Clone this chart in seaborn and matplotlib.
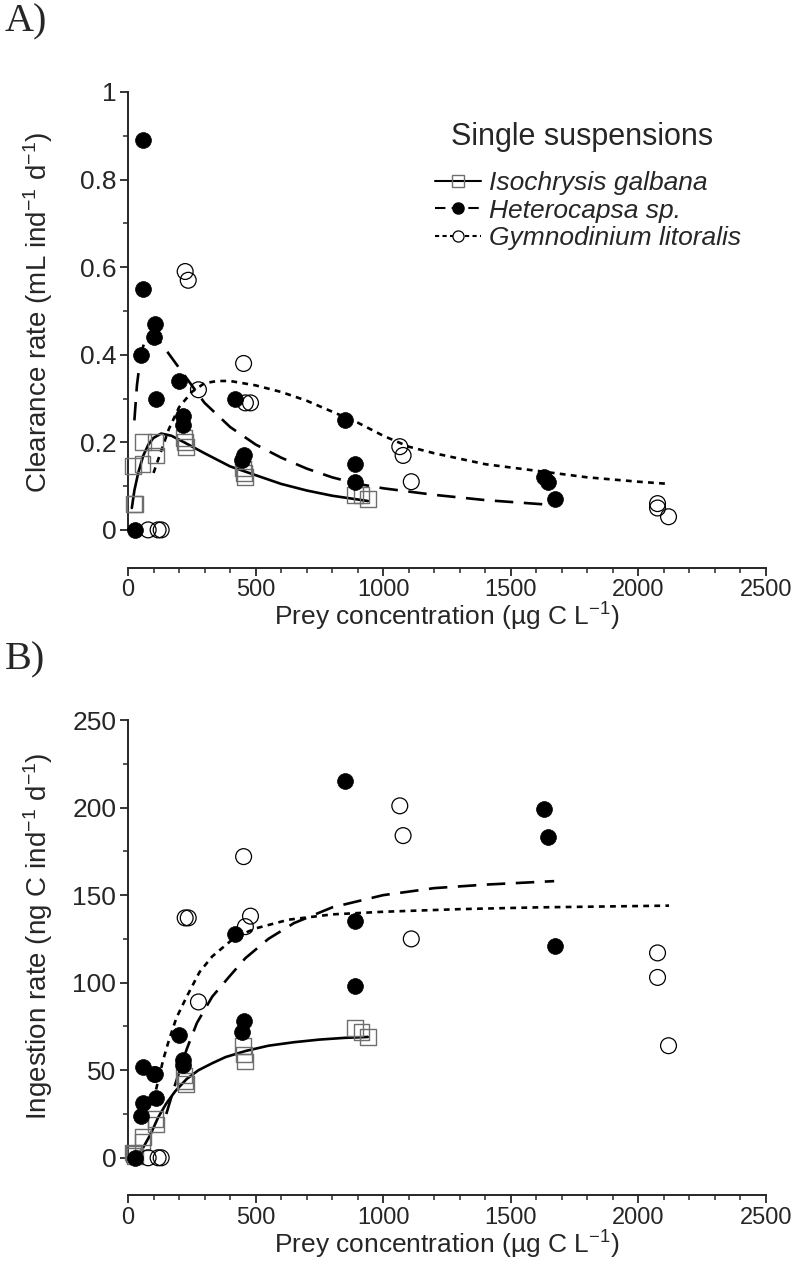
import matplotlib
matplotlib.use("Agg")
import matplotlib.pyplot as plt
import seaborn as sns
import numpy as np
from matplotlib.lines import Line2D
from matplotlib.ticker import MultipleLocator, FuncFormatter
from matplotlib import font_manager

# ---------------- data ----------------
# Isochrysis galbana (open grey squares)
iso_x = [18, 25, 28, 57, 60, 108, 110, 220, 224, 228, 452, 455, 458, 888, 915, 940]
iso_cr = [0.145, 0.06, 0.06, 0.15, 0.20, 0.20, 0.17, 0.21, 0.20, 0.19, 0.14, 0.13, 0.12, 0.08, 0.08, 0.07]
iso_ir = [3, 2, 1, 9, 12, 22, 19, 47, 44, 42, 64, 59, 55, 74, 72, 69]

# Heterocapsa sp. (filled circles)
het_x = [28, 59, 59, 52, 106, 102, 110, 200, 217, 217, 421, 445, 453, 850, 890, 890, 1630, 1646, 1673]
het_cr = [0.0, 0.89, 0.55, 0.40, 0.47, 0.44, 0.30, 0.34, 0.26, 0.24, 0.30, 0.16, 0.17, 0.25, 0.15, 0.11, 0.12, 0.11, 0.07]
het_ir = [0, 52, 31, 24, 48, 48, 34, 70, 56, 53, 128, 72, 78, 215, 135, 98, 199, 183, 121]

# Gymnodinium litoralis (open circles)
gym_x = [79, 118, 130, 224, 236, 276, 453, 460, 480, 1065, 1078, 1110, 2075, 2075, 2118]
gym_cr = [0, 0, 0, 0.59, 0.57, 0.32, 0.38, 0.29, 0.29, 0.19, 0.17, 0.11, 0.06, 0.05, 0.03]
gym_ir = [0, 0, 0, 137, 137, 89, 172, 132, 138, 201, 184, 125, 117, 103, 64]

# fitted curves
iso_fit_cr_x = [15, 25, 40, 60, 80, 100, 130, 170, 220, 300, 400, 500, 600, 700, 800, 940]
iso_fit_cr_y = [0.05, 0.09, 0.13, 0.17, 0.195, 0.21, 0.22, 0.215, 0.20, 0.175, 0.145, 0.125, 0.105, 0.09, 0.078, 0.066]
het_fit_cr_x = [25, 35, 50, 70, 90, 110, 150, 200, 250, 300, 400, 500, 600, 700, 800, 900, 1000, 1200, 1400, 1660]
het_fit_cr_y = [0.25, 0.33, 0.40, 0.44, 0.45, 0.44, 0.41, 0.37, 0.33, 0.29, 0.235, 0.195, 0.165, 0.14, 0.12, 0.105, 0.095, 0.08, 0.068, 0.057]
gym_fit_cr_x = [100, 130, 160, 200, 250, 300, 350, 400, 500, 600, 700, 800, 900, 1000, 1100, 1200, 1400, 1600, 1800, 2000, 2120]
gym_fit_cr_y = [0.13, 0.18, 0.23, 0.28, 0.315, 0.335, 0.34, 0.34, 0.33, 0.315, 0.295, 0.27, 0.245, 0.215, 0.19, 0.175, 0.15, 0.135, 0.12, 0.11, 0.105]

iso_fit_ir_x = [35, 60, 87, 118, 150, 185, 230, 276, 330, 382, 461, 550, 650, 750, 850, 940]
iso_fit_ir_y = [0, 6, 13, 23, 31, 38, 45, 50, 54, 57.5, 61, 64, 66, 67.5, 68.5, 69]
het_fit_ir_x = [150, 185, 230, 270, 330, 400, 460, 550, 650, 800, 1000, 1200, 1400, 1670]
het_fit_ir_y = [25, 42, 62, 77, 92, 104, 114, 125, 134, 143, 150, 154, 156, 158]
gym_fit_ir_x = [110, 138, 160, 190, 230, 280, 330, 420, 500, 630, 800, 1000, 1300, 1600, 2120]
gym_fit_ir_y = [39, 56, 67, 80, 92, 106, 115, 126, 131, 136, 139, 140.5, 142, 143, 144]

legend_labels = ["Isochrysis galbana", "Heterocapsa sp.", "Gymnodinium litoralis"]

# ---------------- style ----------------
sns.set_style("ticks")
plt.rcParams["font.family"] = ["Liberation Sans", "DejaVu Sans"]
plt.rcParams["mathtext.fontset"] = "custom"
plt.rcParams["mathtext.rm"] = "Liberation Sans"
plt.rcParams["mathtext.default"] = "regular"

names = {f.name for f in font_manager.fontManager.ttflist}
if "Liberation Sans Narrow" in names:
    xfont = ["Liberation Sans Narrow", "Liberation Sans"]
    xtick_size, xlab_size = 20, 21
else:
    xfont = ["Liberation Sans", "DejaVu Sans"]
    xtick_size, xlab_size = 17, 19

fig = plt.figure(figsize=(8, 12.65), dpi=100)
axA = fig.add_axes([0.16, 0.5510, 0.7975, 0.3763])
axB = fig.add_axes([0.16, 0.0550, 0.7975, 0.3758])

SQ_EDGE = "#6e6e6e"
LONG = (7, 4)
SHORT = (2.2, 2.0)


def draw_panel(ax, iso_y, het_y, gym_y, fits):
    (ix, iy), (hx, hy), (gx, gy) = fits
    sns.lineplot(x=ix, y=iy, ax=ax, color="black", lw=1.9, errorbar=None)
    sns.lineplot(x=hx, y=hy, ax=ax, color="black", lw=1.9, errorbar=None)
    ax.lines[-1].set_dashes(LONG)
    sns.lineplot(x=gx, y=gy, ax=ax, color="black", lw=1.9, errorbar=None)
    ax.lines[-1].set_dashes(SHORT)

    sns.scatterplot(x=iso_x, y=iso_y, ax=ax, marker="s", s=130, clip_on=False, zorder=3)
    c = ax.collections[-1]
    c.set_facecolor("none"); c.set_edgecolor(SQ_EDGE); c.set_linewidth(1.0)
    sns.scatterplot(x=gym_x, y=gym_y, ax=ax, marker="o", s=130, clip_on=False, zorder=4)
    c = ax.collections[-1]
    c.set_facecolor("none"); c.set_edgecolor("black"); c.set_linewidth(0.9)
    sns.scatterplot(x=het_x, y=het_y, ax=ax, marker="o", s=130, clip_on=False, zorder=5)
    c = ax.collections[-1]
    c.set_facecolor("black"); c.set_edgecolor("black"); c.set_linewidth(0.5)


draw_panel(axA, iso_cr, het_cr, gym_cr,
           [(iso_fit_cr_x, iso_fit_cr_y), (het_fit_cr_x, het_fit_cr_y), (gym_fit_cr_x, gym_fit_cr_y)])
draw_panel(axB, iso_ir, het_ir, gym_ir,
           [(iso_fit_ir_x, iso_fit_ir_y), (het_fit_ir_x, het_fit_ir_y), (gym_fit_ir_x, gym_fit_ir_y)])

fmt = FuncFormatter(lambda v, p: f"{v:g}")
for ax, ymax, ybot, maj, mnr in [(axA, 1.0, -0.087, 0.2, 0.1), (axB, 250, -21.5, 50, 25)]:
    ax.set_xlim(0, 2500)
    ax.set_ylim(ybot, ymax)
    ax.spines["top"].set_visible(False)
    ax.spines["right"].set_visible(False)
    ax.spines["left"].set_bounds(0, ymax)
    ax.spines["bottom"].set_bounds(0, 2500)
    for s in ("left", "bottom"):
        ax.spines[s].set_linewidth(1.4)
    ax.xaxis.set_major_locator(MultipleLocator(500))
    ax.xaxis.set_minor_locator(MultipleLocator(100))
    ax.set_yticks([t for t in np.arange(0, ymax + maj / 2, maj)])
    ax.set_yticks([t for t in np.arange(0, ymax + mnr / 2, mnr)], minor=True)
    ax.yaxis.set_major_formatter(fmt)
    ax.tick_params(which="major", direction="out", length=6, width=1.3, labelsize=19)
    ax.tick_params(which="minor", direction="out", length=3.5, width=1.1)
    ax.tick_params(axis="y", which="major", pad=2.5)
    ax.tick_params(axis="x", which="major", labelsize=xtick_size, pad=2)
    for lab in ax.get_xticklabels():
        lab.set_family(xfont)
    ax.set_xlabel(r"Prey concentration (µg C L$^{-1}$)", fontsize=xlab_size, family=xfont, labelpad=0)

axA.set_ylabel(r"Clearance rate (mL ind$^{-1}$ d$^{-1}$)", fontsize=20)
axB.set_ylabel(r"Ingestion rate (ng C ind$^{-1}$ d$^{-1}$)", fontsize=20)
axA.yaxis.set_label_coords(-0.115, 0.538)
axB.yaxis.set_label_coords(-0.115, 0.546)

fig.text(5 / 800, 1 - 22 / 1265, "A)", family=["Liberation Serif", "DejaVu Serif"], fontsize=29, va="center", ha="left")
fig.text(5 / 800, 1 - 660 / 1265, "B)", family=["Liberation Serif", "DejaVu Serif"], fontsize=29, va="center", ha="left")

# legend
handles = [
    Line2D([], [], color="black", lw=1.5, marker="s", markersize=8, mfc="none", mec=SQ_EDGE, mew=1.0),
    Line2D([], [], color="black", lw=1.5, dashes=(5, 3), marker="o", markersize=8, mfc="black", mec="black"),
    Line2D([], [], color="black", lw=1.5, dashes=(2, 1.6), marker="o", markersize=8, mfc="white", mec="black", mew=0.9),
]
axA.legend(handles, legend_labels, loc="upper left", bbox_to_anchor=(435 / 800, 1 - 171 / 1265),
           bbox_transform=fig.transFigure, frameon=False, prop={"style": "italic", "size": 19},
           handlelength=1.75, handletextpad=0.3, labelspacing=0.14, borderpad=0, borderaxespad=0)
fig.text(582 / 800, 1 - 137 / 1265, "Single suspensions", fontsize=22, ha="center", va="center")

fig.savefig("out.png", dpi=100)
